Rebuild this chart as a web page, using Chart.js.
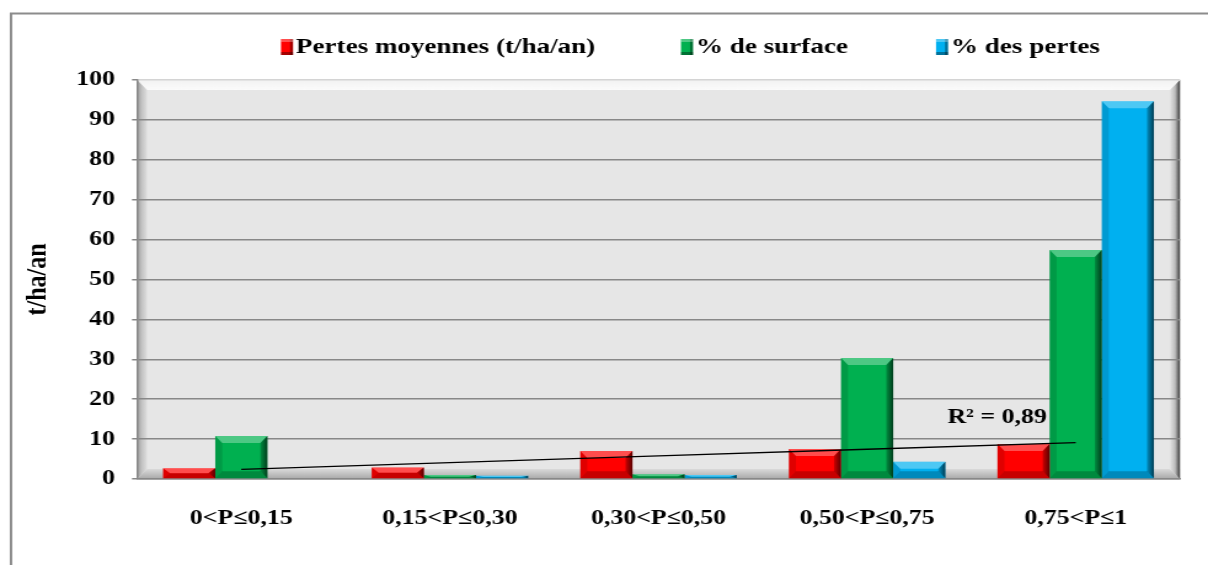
<!DOCTYPE html>
<html lang="fr">
<head>
<meta charset="utf-8">
<title>Pertes en sol par classe de P</title>
<script src="https://cdn.jsdelivr.net/npm/chart.js@4.4.1/dist/chart.umd.min.js"></script>
<style>
  html, body { margin: 0; padding: 0; background: #fff; overflow: hidden; }
</style>
</head>
<body>
<!-- the drawing surface is rendered narrower and widened by CSS (wide serif look) -->
<canvas id="chart" width="982" height="565" style="display:block;width:1208px;height:565px"></canvas>
<script>
// ---- data ----
const categories = ['0<P≤0,15', '0,15<P≤0,30', '0,30<P≤0,50', '0,50<P≤0,75', '0,75<P≤1'];
const pertesMoyennes = [2.7, 2.9, 7.0, 7.5, 8.8];   // t/ha/an
const pctSurface     = [10.8, 1.0, 1.2, 30.3, 57.4]; // %
const pctPertes      = [0, 0.8, 1.0, 4.3, 94.7];     // %
const seriesLabels = ['Pertes moyennes (t/ha/an)', '% de surface', '% des pertes'];
const yAxis = { min: 0, max: 100, step: 10, title: 't/ha/an' };
const r2Text = 'R² = 0,89';

// ---- look ----
const SX = 1208 / 982;             // horizontal widening applied by CSS
const rx = v => v / SX;            // page px -> canvas px (horizontal)
const FONT = "'Liberation Serif', 'Times New Roman', serif";
const colors = ['#FF0000', '#00B050', '#00B0F0'];
const GRID = '#888888';

// linear trend of the mean losses (least squares over the category index)
function linearTrend(values) {
  const n = values.length;
  const mx = (n - 1) / 2;
  const my = values.reduce((s, v) => s + v, 0) / n;
  let sxy = 0, sxx = 0;
  values.forEach((v, i) => { sxy += (i - mx) * (v - my); sxx += (i - mx) * (i - mx); });
  const slope = sxy / sxx;
  return values.map((_, i) => my + slope * (i - mx));
}
const trend = linearTrend(pertesMoyennes);

// 3D box behind the columns: back wall, side walls, floor, and the outer frame
const wallsPlugin = {
  id: 'walls',
  beforeDraw(chart) {
    const { ctx, chartArea: a } = chart;
    const L = a.left, R = a.right, T = a.top, B = a.bottom;
    const dx = rx(10), dy = 10;
    ctx.save();
    // outer frame
    ctx.strokeStyle = '#8c8c8c';
    ctx.lineWidth = 2;
    ctx.beginPath();
    ctx.moveTo(rx(11), chart.height);
    ctx.lineTo(rx(11), 13.5);
    ctx.lineTo(chart.width, 13.5);
    ctx.stroke();

    ctx.fillStyle = '#e6e6e6';
    ctx.fillRect(L, T, R - L, B - T);

    const poly = (pts, fill) => {
      ctx.beginPath();
      ctx.moveTo(pts[0][0], pts[0][1]);
      for (let i = 1; i < pts.length; i++) ctx.lineTo(pts[i][0], pts[i][1]);
      ctx.closePath();
      ctx.fillStyle = fill;
      ctx.fill();
    };
    let g = ctx.createLinearGradient(0, T, 0, T + dy);
    g.addColorStop(0, '#f2f2f2'); g.addColorStop(1, '#fbfbfb');
    poly([[L, T], [R, T], [R - dx, T + dy], [L + dx, T + dy]], g);

    g = ctx.createLinearGradient(L, 0, L + dx, 0);
    g.addColorStop(0, '#9c9c9c'); g.addColorStop(0.5, '#c4c4c4'); g.addColorStop(1, '#dedede');
    poly([[L, T], [L + dx, T + dy], [L + dx, B - dy], [L, B]], g);

    g = ctx.createLinearGradient(0, B - dy, 0, B);
    g.addColorStop(0, '#dadada'); g.addColorStop(1, '#a8a8a8');
    poly([[L, B], [L + dx, B - dy], [R - dx, B - dy], [R, B]], g);

    g = ctx.createLinearGradient(R - dx, 0, R, 0);
    g.addColorStop(0, '#e2e2e2'); g.addColorStop(0.5, '#bdbdbd'); g.addColorStop(1, '#3c3c3c');
    poly([[R, T], [R, B], [R - dx, B - dy], [R - dx, T + dy]], g);
    ctx.restore();
  }
};

// bevelled faces on every column
const bevelPlugin = {
  id: 'bevel',
  afterDatasetDraw(chart, args) {
    const meta = args.meta;
    if (meta.type !== 'bar') return;
    const ctx = chart.ctx;
    ctx.save();
    meta.data.forEach(el => {
      const { x, y, base, width } = el.getProps(['x', 'y', 'base', 'width'], true);
      const top = Math.min(y, base), bottom = Math.max(y, base);
      const h = bottom - top;
      if (h < 0.5) return;
      const l = x - width / 2, r = x + width / 2;
      const by = Math.min(7, h / 2), bx = Math.min(rx(7), width / 2);
      const poly = (pts, fill) => {
        ctx.beginPath();
        ctx.moveTo(pts[0][0], pts[0][1]);
        for (let i = 1; i < pts.length; i++) ctx.lineTo(pts[i][0], pts[i][1]);
        ctx.closePath();
        ctx.fillStyle = fill;
        ctx.fill();
      };
      poly([[l, top], [r, top], [r - bx, top + by], [l + bx, top + by]], 'rgba(255,255,255,0.30)');
      poly([[l, top], [l + bx, top + by], [l + bx, bottom - by], [l, bottom]], 'rgba(0,0,0,0.12)');
      poly([[l, bottom], [r, bottom], [r - bx, bottom - by], [l + bx, bottom - by]], 'rgba(0,0,0,0.22)');
      const g = ctx.createLinearGradient(r - bx, 0, r, 0);
      g.addColorStop(0, 'rgba(0,0,0,0.20)'); g.addColorStop(1, 'rgba(0,0,0,0.65)');
      poly([[r, top], [r, bottom], [r - bx, bottom - by], [r - bx, top + by]], g);
    });
    ctx.restore();
  }
};

// legend row and R² note
const notesPlugin = {
  id: 'notes',
  afterDraw(chart) {
    const ctx = chart.ctx;
    ctx.save();
    const keyX = [281, 681, 936];
    ctx.font = `bold 22px ${FONT}`;
    ctx.textBaseline = 'middle';
    ctx.textAlign = 'left';
    seriesLabels.forEach((label, i) => {
      const x = rx(keyX[i]);
      const w = rx(12);
      ctx.fillStyle = colors[i];
      ctx.fillRect(x, 39, w, 16);
      ctx.fillStyle = 'rgba(0,0,0,0.35)';
      ctx.fillRect(x + w - rx(3), 39, rx(3), 16);
      ctx.fillRect(x, 52, w, 3);
      ctx.fillStyle = 'rgba(255,255,255,0.3)';
      ctx.fillRect(x, 39, w, 3);
      ctx.fillStyle = '#000';
      ctx.fillText(label, x + w + rx(3), 47);
    });
    // R² beside the end of the trend line
    const lineMeta = chart.getDatasetMeta(3);
    const last = lineMeta.data[lineMeta.data.length - 1];
    ctx.font = `bold 21px ${FONT}`;
    ctx.textAlign = 'right';
    ctx.textBaseline = 'alphabetic';
    ctx.fillText(r2Text, last.x - rx(29), last.y - 20);
    ctx.restore();
  }
};

new Chart(document.getElementById('chart'), {
  type: 'bar',
  data: {
    labels: categories,
    datasets: [
      { label: seriesLabels[0], data: pertesMoyennes, backgroundColor: colors[0] },
      { label: seriesLabels[1], data: pctSurface, backgroundColor: colors[1] },
      { label: seriesLabels[2], data: pctPertes, backgroundColor: colors[2] },
      { type: 'line', label: 'Linéaire', data: trend, borderColor: '#000', borderWidth: 1.3,
        pointRadius: 0, fill: false, order: -1 }
    ]
  },
  options: {
    responsive: false,
    animation: false,
    devicePixelRatio: 1,
    layout: { padding: { top: 80, right: 982 - rx(1180), left: 0, bottom: 0 } },
    datasets: { bar: { categoryPercentage: 0.75, barPercentage: 1.0, borderWidth: 0 } },
    plugins: { legend: { display: false }, tooltip: { enabled: false } },
    scales: {
      x: {
        grid: { display: false, drawTicks: false },
        border: { display: true, color: GRID, width: 1.5 },
        ticks: { color: '#000', font: { family: FONT, size: 21, weight: 'bold' }, padding: 27,
                 maxRotation: 0, autoSkip: false },
        afterFit(scale) { scale.height = 565 - 479; }
      },
      y: {
        min: yAxis.min, max: yAxis.max,
        grid: {
          color: c => (c.tick && c.tick.value === yAxis.max) ? '#d4d4d4' : GRID,
          lineWidth: 1.5, tickLength: rx(5), tickColor: GRID
        },
        border: { display: true, color: GRID, width: 1.5 },
        ticks: { stepSize: yAxis.step, color: '#000', font: { family: FONT, size: 21, weight: 'bold' },
                 padding: rx(17) },
        title: { display: true, text: yAxis.title, color: '#000',
                 font: { family: FONT, size: 24, weight: 'bold' }, padding: { top: 16, bottom: 0 } },
        afterFit(scale) { scale.width = rx(137); }
      }
    }
  },
  plugins: [wallsPlugin, bevelPlugin, notesPlugin]
});
</script>
</body>
</html>
